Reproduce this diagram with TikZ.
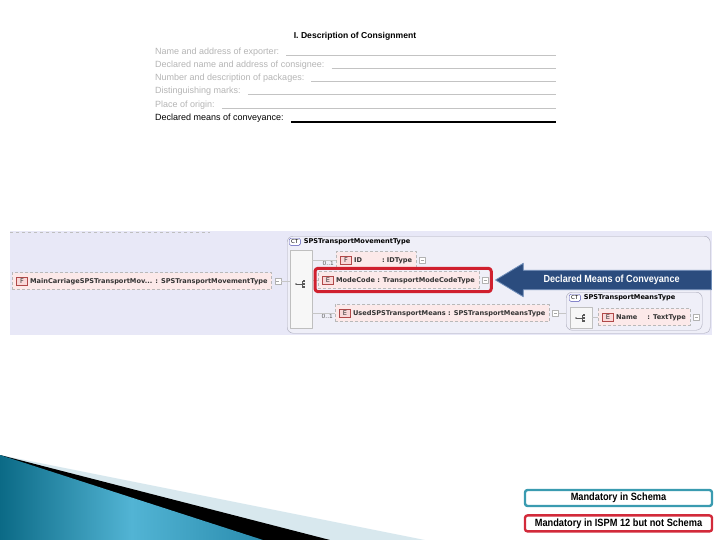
\documentclass[tikz,border=0pt]{standalone}
\usepackage{fontspec}
\setmainfont{Liberation Sans}
\newfontfamily\xsdfont{DejaVu Sans}
\newfontfamily\legfont[FakeStretch=0.88]{Liberation Sans}
\usetikzlibrary{positioning,fit,shapes.arrows}
\definecolor{bandcol}{HTML}{E8E8F7}
\definecolor{ctfill}{HTML}{EFEFF8}
\definecolor{ctline}{HTML}{A8A8B8}
\definecolor{elemfill}{HTML}{FCE9E9}
\definecolor{tagred}{HTML}{B04848}
\definecolor{tagpink}{HTML}{F9D8D8}
\definecolor{hlred}{HTML}{D0202E}
\definecolor{arrowblue}{HTML}{2B4C7E}
\definecolor{arrowedge}{HTML}{6F8DB8}
\definecolor{formgray}{HTML}{B4B4B4}
\definecolor{tealdark}{HTML}{0B6A86}
\definecolor{teallight}{HTML}{52B4D4}
\definecolor{tealmid}{HTML}{2A8CAE}
\definecolor{palestripe}{HTML}{D8E8EE}
\definecolor{schemacol}{HTML}{3A9BB0}
\definecolor{ispmcol}{HTML}{D22A3A}
\newcommand\tg[1]{{\setlength\fboxsep{1.3pt}\setlength\fboxrule{.5pt}\fcolorbox{tagred}{tagpink}{\makebox[8pt]{\mdseries#1}}}}
\tikzset{
	elem/.style={draw=gray!55, densely dashed, fill=elemfill, anchor=west, inner xsep=4pt, minimum height=17, font=\xsdfont\bfseries\fontsize{6.6}{7}\selectfont, text=black!80},
	plusbox/.style={draw=gray!60, fill=white, minimum size=6, inner sep=0, path picture={\draw[gray!70] ([xshift=1.5pt]path picture bounding box.west) -- ([xshift=-1.5pt]path picture bounding box.east);}},
	occ/.style={font=\xsdfont\fontsize{5.8}{6}\selectfont, text=gray!70!black, inner sep=1pt},
	ctbox/.style={draw=ctline, fill=ctfill, rounded corners=6, anchor=north west, inner sep=0},
	cttag/.style={draw=blue!40!gray, fill=white, rounded corners=1.5, font=\xsdfont\fontsize{5.5}{6}\selectfont, inner xsep=2pt, inner ysep=1.5pt, anchor=north west},
	cttitle/.style={font=\xsdfont\bfseries\fontsize{6.6}{7}\selectfont, inner sep=1pt},
	seqbox/.style={draw=gray!50, fill=gray!6, inner sep=0},
	conn/.style={draw=gray!45, line width=.5},
	formlbl/.style={anchor=base west, inner sep=0, font=\fontsize{9}{10}\selectfont, text=formgray},
	legend/.style={draw, line width=2.4, rounded corners=2.5, fill=white, minimum width=187, minimum height=16, inner sep=0, font=\legfont\bfseries\fontsize{10.5}{11}\selectfont},
}
\begin{document}
\begin{tikzpicture}[x=1pt,y=-1pt,line join=round]
	\useasboundingbox (0,0) rectangle (720,540);
	%==Form
	\node[font=\bfseries\fontsize{8.6}{10}\selectfont] (title) at (355,36) {I. Description of Consignment};
	\foreach \n/\y/\t in {r1/55/Name and address of exporter:,r2/68/Declared name and address of consignee:,r3/81/Number and description of packages:,r4/94/Distinguishing marks:,r5/108/Place of origin:}{
		\node[formlbl] (\n) at (155,\y) {\t};
		\draw[formgray!80, line width=1] ([xshift=7pt,yshift=-1pt]\n.base east) -- (556,\y+1);
	}
	\node[formlbl, text=black] (r6) at (155,121) {Declared means of conveyance:};
	\draw[black, line width=1.1] ([xshift=7pt,yshift=-1pt]r6.base east) -- (556,122);
	%==Schema
	\fill[bandcol] (10,231) rectangle (712,335);
	\draw[gray!50, dashed] (10,232) -- (210,232);
	\node[ctbox, minimum width=423, minimum height=97] (ct1) at (287,236) {};
	\node[cttag] (ct1tag) at (289,238) {CT};
	\node[cttitle, right=2pt of ct1tag] (ct1name) {SPSTransportMovementType};
	\node[seqbox, minimum width=22, minimum height=78] (seq1) at (301,289) {};
	\coordinate (seq1ic) at (301,284);
	\node[elem] (main) at (12,281) {\tg{F}\ MainCarriageSPSTransportMov... : SPSTransportMovementType};
	\node[plusbox] (mainplus) at ([xshift=6pt]main.east) {};
	\draw[conn] (mainplus) -- (mainplus -| seq1.west);
	\node[elem] (id) at (336,260) {\tg{F}\ ID\hspace{20pt}: IDType};
	\node[plusbox] (idplus) at ([xshift=6pt]id.east) {};
	\node[occ, anchor=north east] (idocc) at ([xshift=-1pt]id.west) {0..1};
	\draw[conn] (seq1.east |- id.west) -- (id.west);
	\node[elem] (mode) at (318,280) {\tg{E}\ ModeCode : TransportModeCodeType};
	\node[plusbox] (modeplus) at ([xshift=6pt]mode.east) {};
	\draw[conn] (seq1.east |- mode.west) -- (mode.west);
	\node[draw=hlred, line width=3, rounded corners=3, fit=(mode)(modeplus), inner sep=3] (hl) {};
	\node[elem] (used) at (335,313) {\tg{E}\ UsedSPSTransportMeans : SPSTransportMeansType};
	\node[plusbox] (usedplus) at ([xshift=6pt]used.east) {};
	\node[occ, anchor=north east] (usedocc) at ([xshift=-1pt]used.west) {0..1};
	\draw[conn] (seq1.east |- used.west) -- (used.west);
	\node[ctbox, minimum width=136, minimum height=38] (ct2) at (566,292) {};
	\draw[conn] (usedplus) -- (usedplus -| ct2.west);
	\node[cttag] (ct2tag) at (569,294) {CT};
	\node[cttitle, right=2pt of ct2tag] (ct2name) {SPSTransportMeansType};
	\node[seqbox, minimum width=22, minimum height=21] (seq2) at (581,318) {};
	\coordinate (seq2ic) at (581,318);
	\node[elem] (name) at (598,317) {\tg{E}\ Name\hspace{10pt}: TextType};
	\node[plusbox] (nameplus) at ([xshift=6pt]name.east) {};
	\draw[conn] (seq2.east |- name.west) -- (name.west);
	\foreach \c in {seq1ic,seq2ic}{
		\fill[gray!70!black] ([xshift=-5pt]\c) circle (.9pt);
		\draw[gray!70!black, line width=.5] ([xshift=-5pt]\c) -- ([xshift=1pt]\c) ([shift={(1pt,-3.5pt)}]\c) -- ([shift={(1pt,3.5pt)}]\c);
		\foreach \d in {-3,0,3} \fill[gray!70!black] ([shift={(1.5pt,\d pt-0.6pt)}]\c) rectangle ++(2.6pt,1.2pt);
	}
	%==Arrow
	\node[single arrow, shape border rotate=180, fill=arrowblue, draw=arrowedge, line width=.8, minimum height=216, single arrow head extend=7, single arrow tip angle=62, inner xsep=2, inner ysep=4.5, anchor=tip, text=white, font=\legfont\bfseries\fontsize{10.3}{11}\selectfont] (conv) at ([xshift=2pt]hl.east) {Declared Means of Conveyance};
	%==Bottom corner
	\fill[palestripe] (0,455) -- (425,540) -- (0,540) -- cycle;
	\fill[black] (0,455) -- (330,540) -- (0,540) -- cycle;
	\shade[left color=tealdark, right color=tealmid, middle color=teallight] (0,455) -- (263,540) -- (0,540) -- cycle;
	%==Legend
	\node[legend, draw=schemacol] (leg1) at (618.5,498) {Mandatory in Schema};
	\node[legend, draw=ispmcol, below=7pt of leg1] (leg2) {Mandatory in ISPM 12 but not Schema};
\end{tikzpicture}
\end{document}
